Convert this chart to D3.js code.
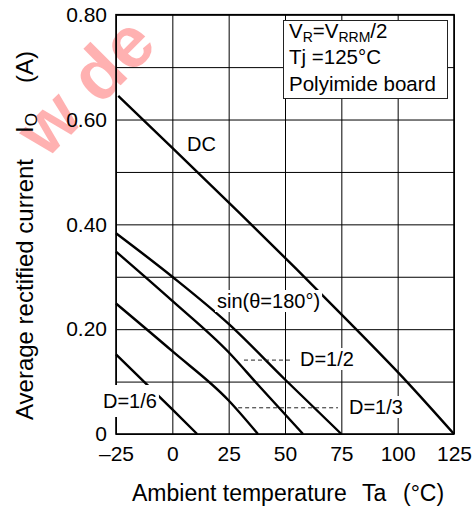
<!DOCTYPE html>
<html>
<head>
<meta charset="utf-8">
<script src="https://cdn.jsdelivr.net/npm/d3@7"></script>
<style>
    body { margin: 0; background: #fff; }
    svg { display: block; font-family: Arial, "Liberation Sans", sans-serif; }
    text { white-space: pre; }
</style>
</head>
<body>
<div id="chart"></div>
<script>
// curves: [Ta (°C), Io (A)]
const dcPoints = [[-24, 0.645], [0, 0.546], [30, 0.421], [55, 0.315], [79, 0.211], [104, 0.10], [125, 0]];
const sinPoints = [[-25, 0.383], [0, 0.30], [25, 0.21], [50, 0.104], [75, 0]];
const halfPoints = [[-25, 0.348], [0, 0.254], [25, 0.156], [38, 0.094], [58, 0]];
const thirdPoints = [[-25, 0.249], [0, 0.158], [25, 0.064], [38, 0]];
const sixthPoints = [[-25, 0.152], [0, 0.047], [11, 0]];

const xGridTicks = [-25, 0, 25, 50, 75, 100, 125];
const yGridTicks = [0, 0.1, 0.2, 0.3, 0.4, 0.5, 0.6, 0.7, 0.8];
const yLabelTicks = [0, 0.2, 0.4, 0.6, 0.8];

function createChart() {
    const width = 476;
    const height = 510;

    const svg = d3
        .select('#chart')
        .append('svg')
        .attr('width', width)
        .attr('height', height);

    const usableArea = { top: 14.7, bottom: 434, left: 116, right: 454 };

    const xScale = d3.scaleLinear().domain([-25, 125]).range([usableArea.left, usableArea.right]);
    const yScale = d3.scaleLinear().domain([0, 0.8]).range([usableArea.bottom, usableArea.top]);

    // watermark behind everything (kept inside the page)
    svg.append('text')
        .attr('transform', 'translate(46,160) rotate(-45)')
        .attr('font-size', 72)
        .attr('font-weight', 'bold')
        .attr('fill', '#ff0000')
        .attr('opacity', 0.3)
        .text('w de');

    // gridlines
    svg.append('g')
        .attr('class', 'gridlines')
        .attr('transform', `translate(${usableArea.left}, 0)`)
        .call(d3.axisLeft(yScale)
            .tickValues(yGridTicks)
            .tickFormat('')
            .tickSize(-(usableArea.right - usableArea.left)))
        .call((g) => g.select('.domain').remove())
        .call((g) => g.selectAll('line').attr('stroke', '#000').attr('stroke-width', 1));

    svg.append('g')
        .attr('class', 'gridlines')
        .attr('transform', `translate(0, ${usableArea.bottom})`)
        .call(d3.axisBottom(xScale)
            .tickValues(xGridTicks)
            .tickFormat('')
            .tickSize(-(usableArea.bottom - usableArea.top)))
        .call((g) => g.select('.domain').remove())
        .call((g) => g.selectAll('line').attr('stroke', '#000').attr('stroke-width', 1));

    // frame
    svg.append('rect')
        .attr('x', usableArea.left)
        .attr('y', usableArea.top)
        .attr('width', usableArea.right - usableArea.left)
        .attr('height', usableArea.bottom - usableArea.top)
        .attr('fill', 'none')
        .attr('stroke', '#000')
        .attr('stroke-width', 1.6);

    // tick labels
    const yAxis = svg.append('g')
        .attr('transform', `translate(${usableArea.left}, 0)`)
        .call(d3.axisLeft(yScale)
            .tickValues(yLabelTicks)
            .tickSize(0)
            .tickPadding(9)
            .tickFormat((d) => d === 0 ? '0' : d.toFixed(2)));
    yAxis.select('.domain').remove();
    yAxis.selectAll('text')
        .attr('font-size', 21)
        .attr('font-family', 'Arial, "Liberation Sans", sans-serif')
        .attr('fill', '#000');

    const xAxis = svg.append('g')
        .attr('transform', `translate(0, ${usableArea.bottom})`)
        .call(d3.axisBottom(xScale)
            .tickValues(xGridTicks)
            .tickSize(0)
            .tickPadding(12)
            .tickFormat((d) => d < 0 ? '\u2013' + Math.abs(d) : String(d)));
    xAxis.select('.domain').remove();
    xAxis.selectAll('text')
        .attr('font-size', 21)
        .attr('font-family', 'Arial, "Liberation Sans", sans-serif')
        .attr('fill', '#000');

    // curves
    const line = d3.line()
        .x((d) => xScale(d[0]))
        .y((d) => yScale(d[1]))
        .curve(d3.curveMonotoneX);

    svg.append('g')
        .attr('class', 'curves')
        .selectAll('path')
        .data([dcPoints, sinPoints, halfPoints, thirdPoints, sixthPoints])
        .join('path')
        .attr('d', line)
        .attr('fill', 'none')
        .attr('stroke', '#000')
        .attr('stroke-width', 2.4);

    // dashed leaders
    svg.append('line')
        .attr('x1', xScale(31.8)).attr('x2', xScale(52.2))
        .attr('y1', yScale(0.141)).attr('y2', yScale(0.141))
        .attr('stroke', '#222').attr('stroke-dasharray', '4,3');
    svg.append('line')
        .attr('x1', xScale(29.2)).attr('x2', xScale(73.5))
        .attr('y1', yScale(0.05)).attr('y2', yScale(0.05))
        .attr('stroke', '#222').attr('stroke-dasharray', '4,3');

    // curve labels with white boxes
    const labels = [
        { text: 'DC', x: 187, y: 151, pad: 0 },
        { text: 'sin(\u03b8=180\u00b0)', x: 217, y: 308, pad: 0 },
        { text: 'D=1/2', x: 300, y: 366, pad: 0 },
        { text: 'D=1/3', x: 349, y: 414, pad: 0 },
        { text: 'D=1/6', x: 103, y: 408, pad: 5 },
    ];
    labels.forEach((l) => {
        const g = svg.append('g');
        const t = g.append('text')
            .attr('x', l.x)
            .attr('y', l.y)
            .attr('font-size', 20)
            .text(l.text);
        const bb = t.node().getBBox();
        g.insert('rect', 'text')
            .attr('x', bb.x - 2)
            .attr('y', bb.y - l.pad)
            .attr('width', bb.width + 4)
            .attr('height', bb.height + l.pad * 2)
            .attr('fill', '#fff');
    });

    // condition box
    svg.append('rect')
        .attr('x', 283.5)
        .attr('y', 20.5)
        .attr('width', 164)
        .attr('height', 78)
        .attr('fill', '#fff')
        .attr('stroke', '#222')
        .attr('stroke-width', 1);

    const cond = svg.append('g').attr('font-size', 20.5);
    const l1 = cond.append('text').attr('x', 289).attr('y', 37.5);
    l1.append('tspan').text('V');
    l1.append('tspan').attr('font-size', 14).attr('dy', 4).text('R');
    l1.append('tspan').attr('dy', -4).text('=V');
    l1.append('tspan').attr('font-size', 14).attr('dy', 4).text('RRM');
    l1.append('tspan').attr('dy', -4).text('/2');
    cond.append('text').attr('x', 289).attr('y', 64).text('Tj =125\u00b0C');
    cond.append('text').attr('x', 289).attr('y', 90.5).text('Polyimide board');

    // axis titles
    const xTitle = svg.append('text').attr('y', 501).attr('font-size', 23);
    xTitle.append('tspan').attr('x', 132).text('Ambient temperature');
    xTitle.append('tspan').attr('x', 362).text('Ta');
    xTitle.append('tspan').attr('x', 403).text('(\u00b0C)');

    const yTitle = svg.append('text')
        .attr('transform', 'translate(33, 0) rotate(-90)')
        .attr('font-size', 24);
    yTitle.append('tspan').attr('x', -420).text('Average rectified current');
    yTitle.append('tspan').attr('x', -133).text('I');
    yTitle.append('tspan').attr('font-size', 17).attr('dy', 4).text('O');
    yTitle.append('tspan').attr('x', -83).attr('dy', -4).text('(A)');
}

document.addEventListener('DOMContentLoaded', () => {
    createChart();
});
</script>
</body>
</html>
